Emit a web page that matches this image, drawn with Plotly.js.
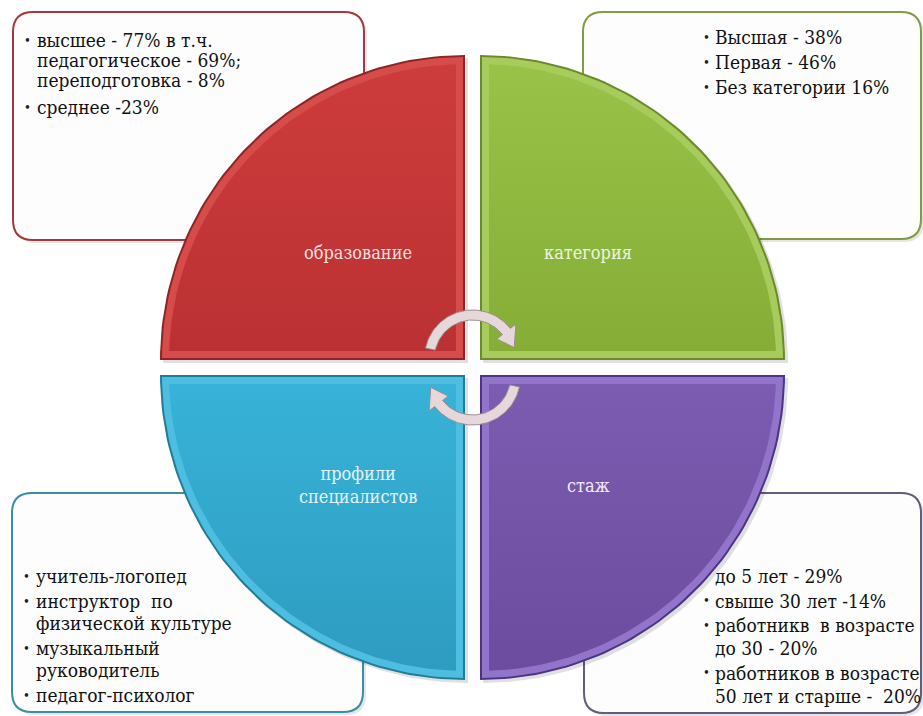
<!DOCTYPE html>
<html>
<head>
<meta charset="utf-8">
<script src="https://cdn.plot.ly/plotly-3.0.1.min.js"></script>
<style>html,body{margin:0;padding:0;background:#fff;}#chart{width:923px;height:716px;}</style>
</head>
<body>
<div id="chart"></div>
<script>
// ---------- data ----------
const categories = ['образование', 'категория', 'профили<br>специалистов', 'стаж'];
const educationItems = [['высшее - 77% в т.ч.', 'педагогическое - 69%;', 'переподготовка - 8%'], ['среднее -23%']];
const categoryItems = [['Высшая - 38%'], ['Первая - 46%'], ['Без категории 16%']];
const specialistItems = [['учитель-логопед'], ['инструктор  по', 'физической культуре'], ['музыкальный', 'руководитель'], ['педагог-психолог']];
const experienceItems = [['до 5 лет - 29%'], ['свыше 30 лет -14%'], ['работникв  в возрасте', 'до 30 - 20%'], ['работников в возрасте', '50 лет и старше -  20%']];

// ---------- geometry / style ----------
const FONT = 'DejaVu Serif Condensed';
const W = 923, H = 716, R = 305;
const quads = [
  {c: [465, 360], sx: -1, sy: -1, edge: '#8e2424', band: '#d64c4a', top: '#cd3c3c', bot: '#bb3133', label: [358, 252], tc: '#f3dede'},
  {c: [480, 360], sx: 1, sy: -1, edge: '#6a8a2c', band: '#a8cc5c', top: '#98c248', bot: '#86ae37', label: [588, 252], tc: '#eef6dc'},
  {c: [465, 375], sx: -1, sy: 1, edge: '#1f7d98', band: '#4dbde0', top: '#38b2d8', bot: '#2e9cc0', label: [358, 485], tc: '#e2f5fb'},
  {c: [480, 375], sx: 1, sy: 1, edge: '#4b3582', band: '#9275ca', top: '#7c5cb0', bot: '#6c4c9e', label: [588, 485], tc: '#f1eafb'}
];
const boxes = [
  {x0: 13, y0: 12, x1: 364, y1: 240, line: '#a23a3c', items: educationItems, bx: 27, tx: 35, y: 40, ls: 20, is: 27, hideFirst: false},
  {x0: 583, y0: 12, x1: 921, y1: 239, line: '#7f9d40', items: categoryItems, bx: 706, tx: 713, y: 37, ls: 22, is: 25, hideFirst: false},
  {x0: 12, y0: 493, x1: 363, y1: 712, line: '#3b8da6', items: specialistItems, bx: 26, tx: 34, y: 576, ls: 22, is: 25, hideFirst: false},
  {x0: 584, y0: 493, x1: 921, y1: 713, line: '#675a82', items: experienceItems, bx: 706, tx: 713, y: 576, ls: 23, is: 24.5, hideFirst: true}
];

function quadPts(q, d) {
  const r = R - d, a = Math.asin(d / r), xs = [], ys = [];
  xs.push(q.c[0] + q.sx * d); ys.push(q.c[1] + q.sy * d);
  const n = 60;
  for (let i = 0; i <= n; i++) {
    const t = a + (Math.PI / 2 - 2 * a) * i / n;
    xs.push(q.c[0] + q.sx * r * Math.cos(t)); ys.push(q.c[1] + q.sy * r * Math.sin(t));
  }
  xs.push(xs[0]); ys.push(ys[0]);
  return {xs, ys};
}
function rr(x0, y0, x1, y1, r) {
  return `M${x0 + r},${y0} L${x1 - r},${y0} Q${x1},${y0} ${x1},${y0 + r} L${x1},${y1 - r} Q${x1},${y1} ${x1 - r},${y1} L${x0 + r},${y1} Q${x0},${y1} ${x0},${y1 - r} L${x0},${y0 + r} Q${x0},${y0} ${x0 + r},${y0} Z`;
}
function arrowPts(cx, cy, flip) {
  const ro = 48, ri = 38, rm = 43, xs = [], ys = [];
  const P = (r, deg) => {
    const t = deg * Math.PI / 180;
    return [cx + flip * r * Math.cos(t), cy - flip * r * Math.sin(t)];
  };
  const a0 = 168, a1 = 38, tip = 14;
  for (let d = a0; d >= a1; d -= 2) { const p = P(ro, d); xs.push(p[0]); ys.push(p[1]); }
  let p = P(ro + 7, a1); xs.push(p[0]); ys.push(p[1]);
  p = P(rm, tip); xs.push(p[0]); ys.push(p[1]);
  p = P(ri - 7, a1); xs.push(p[0]); ys.push(p[1]);
  for (let d = a1; d <= a0; d += 2) { const q = P(ri, d); xs.push(q[0]); ys.push(q[1]); }
  xs.push(xs[0]); ys.push(ys[0]);
  return {xs, ys};
}

const traces = [];
const shapes = [];
const annotations = [];

boxes.forEach(b => {
  shapes.push({type: 'path', layer: 'below', xref: 'x', yref: 'y', path: rr(b.x0 + 3, b.y0 + 3, b.x1 + 3, b.y1 + 3, 20), fillcolor: 'rgba(0,0,0,0.10)', line: {width: 0}});
  shapes.push({type: 'path', layer: 'below', xref: 'x', yref: 'y', path: rr(b.x0, b.y0, b.x1, b.y1, 20), fillcolor: '#fdfdfd', line: {color: b.line, width: 2}});
  let y = b.y;
  b.items.forEach((item, k) => {
    if (!(b.hideFirst && k === 0)) {
      annotations.push({x: b.bx, y: y, xref: 'x', yref: 'y', text: '•', showarrow: false, xanchor: 'center', yanchor: 'middle', font: {family: FONT, size: 13, color: '#222'}});
    }
    item.forEach((line, j) => {
      annotations.push({x: b.tx, y: y + j * b.ls, xref: 'x', yref: 'y', text: line, showarrow: false, xanchor: 'left', yanchor: 'middle', font: {family: FONT, size: 19, color: '#111'}});
    });
    y += (item.length - 1) * b.ls + b.is;
  });
});

quads.forEach((q, i) => {
  const sh = quadPts({...q, c: [q.c[0] + 3, q.c[1] + 3]}, 0);
  traces.push({type: 'scatter', mode: 'lines', x: sh.xs, y: sh.ys, fill: 'toself', fillcolor: 'rgba(0,0,0,0.12)', line: {width: 0}, hoverinfo: 'skip'});
  const o = quadPts(q, 0);
  traces.push({type: 'scatter', mode: 'lines', x: o.xs, y: o.ys, fill: 'toself', fillcolor: q.edge, line: {width: 0}, hoverinfo: 'skip'});
  const b = quadPts(q, 2);
  traces.push({type: 'scatter', mode: 'lines', x: b.xs, y: b.ys, fill: 'toself', fillcolor: q.band, line: {width: 0}, hoverinfo: 'skip'});
  const n = quadPts(q, 9);
  traces.push({type: 'scatter', mode: 'lines', x: n.xs, y: n.ys, fill: 'toself',
    fillgradient: {type: 'vertical', colorscale: [[0, q.bot], [1, q.top]]}, line: {width: 0}, hoverinfo: 'skip'});
  annotations.push({x: q.label[0], y: q.label[1], xref: 'x', yref: 'y', text: categories[i], showarrow: false, xanchor: 'center', yanchor: 'middle', font: {family: FONT, size: 18, color: q.tc}});
});

[[472.5, 358, 1], [472.5, 377, -1]].forEach(a => {
  const p = arrowPts(a[0], a[1], a[2]);
  traces.push({type: 'scatter', mode: 'lines', x: p.xs, y: p.ys, fill: 'toself', fillcolor: '#e6d8da', line: {color: '#9d8d90', width: 1}, hoverinfo: 'skip'});
});

const layout = {
  width: W, height: H,
  margin: {l: 0, r: 0, t: 0, b: 0},
  paper_bgcolor: '#ffffff', plot_bgcolor: '#ffffff',
  showlegend: false,
  xaxis: {range: [0, W], visible: false, fixedrange: true},
  yaxis: {range: [H, 0], visible: false, fixedrange: true},
  shapes: shapes,
  annotations: annotations
};
Plotly.newPlot('chart', traces, layout, {displayModeBar: false, staticPlot: true});
</script>
</body>
</html>
